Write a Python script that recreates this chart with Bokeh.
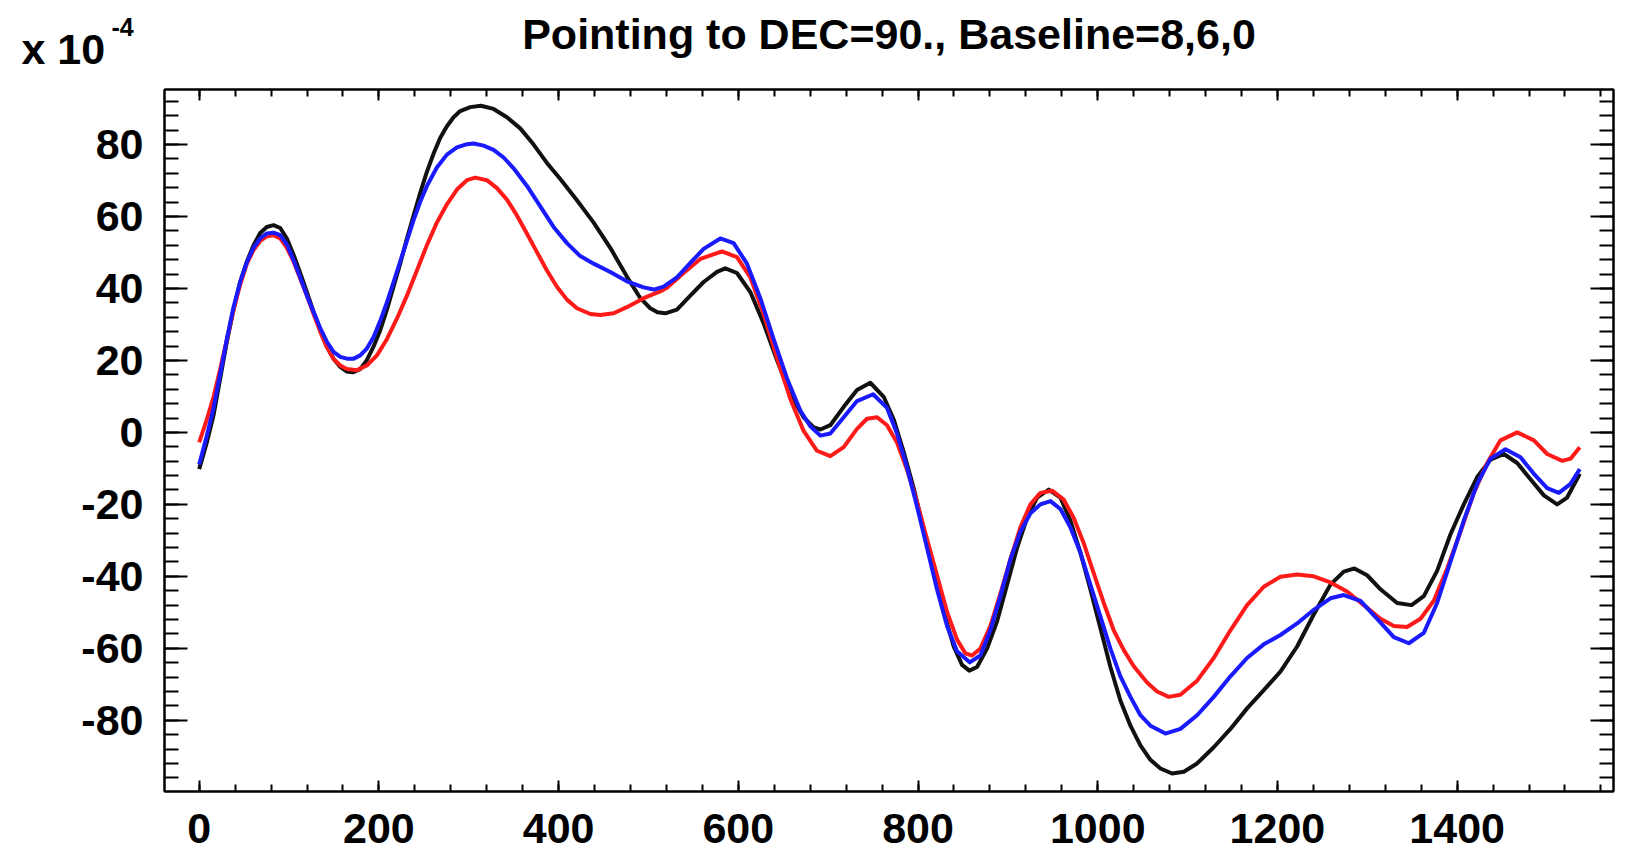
from bokeh.plotting import figure
from bokeh.models import Range1d, LinearAxis, SingleIntervalTicker, CustomLabelingPolicy
from bokeh.core.properties import value
from bokeh.embed import file_html
from bokeh.resources import INLINE

# ---------------- data (units of 1e-4) ----------------
black_x = [0, 8.5, 16, 23.4, 30.8, 38.2, 45.6, 53.1, 60.5, 67.9, 75.3, 82.7, 90.2, 97.6, 105, 112.4, 119.9, 127.3,
           134.7, 142.1, 149.5, 157, 164.4, 171, 179.2, 186.6, 194.1, 201.5, 208.9, 216.3, 223.7, 231.2, 238.6, 246,
           253.4, 260.9, 268.3, 275.7, 283.1, 290.5, 301.7, 313.5, 327.6, 342.5, 357.3, 372.2, 387, 401.9, 420.4, 439,
           457.5, 476, 491, 502, 510, 518.7, 531.7, 546.6, 561.4, 576.3, 585.5, 598.5, 613.4, 628.2, 643, 657.9,
           672.7, 683.9, 691.3, 702.4, 717.3, 732.1, 746.9, 761.8, 772.9, 784, 795.2, 806.3, 817.4, 828.6, 839.7, 849,
           857.1, 865.7, 876.8, 888, 899.1, 910.2, 921.3, 932.5, 945.5, 958.4, 969.6, 980.7, 991.8, 1003, 1014.1,
           1025.2, 1036.4, 1047.5, 1058.6, 1069.8, 1082.7, 1095.8, 1110.6, 1129.1, 1147.7, 1166.2, 1184.8, 1203.3,
           1221.9, 1240.4, 1259, 1273.8, 1285.7, 1299.8, 1314.7, 1333.2, 1349.2, 1362.9, 1377.7, 1392.6, 1407.4,
           1422.3, 1437.1, 1452, 1466.8, 1481.6, 1496.5, 1511.3, 1522.4, 1536.5]
black_y = [-10.2, -2.8, 4.8, 15.0, 25.2, 34.1, 41.8, 47.5, 52.0, 55.4, 57.1, 57.6, 56.8, 53.9, 49.4, 44.3, 39.0, 33.5,
           28.4, 23.9, 20.5, 18.2, 16.9, 16.7, 17.6, 20.1, 23.9, 28.4, 34.1, 40.5, 46.9, 53.9, 60.3, 66.6,
           72.4, 77.5, 81.9, 85.1, 87.6, 89.3, 90.4, 90.8, 89.9, 87.6, 84.5, 80.0, 74.9, 70.4, 64.5, 58.3,
           51.3, 43.3, 37.3, 34.5, 33.4, 33.1, 34.1, 38.0, 41.8, 44.6, 45.6, 44.3, 39.0, 30.3, 20.1, 10.6,
           4.2, 1.4, 0.8, 2.0, 7.1, 11.8, 13.8, 9.9, 3.6, -5.4, -15.5, -27.0, -38.5, -49.9, -59.5, -64.6,
           -66.2, -65.2, -60.1, -52.5, -42.3, -32.1, -23.8, -18.1, -15.9, -18.1, -24.5, -33.4, -43.6, -54.4, -65.2,
           -74.5, -81.5, -87.0, -91.0, -93.4, -94.8, -94.3, -92.0, -87.5, -82.4, -76.7, -71.6, -66.5,
           -59.5, -50.6, -42.3, -38.7, -37.8, -39.7, -43.6, -47.4, -48.0, -45.5, -38.5, -28.3, -20.0,
           -12.4, -7.6, -6.0, -8.5, -13.0, -17.5, -20.0, -18.1, -11.5]

red_x = [0, 8.5, 16, 23.4, 30.8, 38.2, 45.6, 53.1, 60.5, 67.9, 75.3, 82.7, 90.2, 97.6, 105, 112.4, 119.9, 127.3,
         134.7, 142.1, 149.5, 157, 164.4, 175.5, 186.6, 197.8, 208.9, 220, 231.2, 242.3, 253.4, 264.5, 275.7, 286.8,
         298, 307.2, 320.2, 331.4, 342.5, 353.6, 364.8, 375.9, 387, 398.1, 409.3, 420.4, 435.3, 446.4, 461.2, 476,
         494.6, 513, 520.6, 539.1, 557.7, 581.8, 598.5, 613.4, 628.2, 643, 657.9, 672.7, 687.6, 702.4, 717.3, 732.1,
         743.2, 754.4, 765.5, 776.6, 787.8, 798.9, 810, 821.1, 832.3, 843.4, 852.7, 860.1, 869.4, 880.5, 891.7,
         902.8, 913.9, 925.1, 936.2, 949.2, 962.2, 973.3, 984.4, 995.5, 1006.7, 1017.8, 1029, 1040.1, 1054.9, 1066,
         1079, 1092, 1110.6, 1129.1, 1147.7, 1166.2, 1184.8, 1203.3, 1222, 1240.4, 1259, 1277.5, 1296.1, 1314.7,
         1329.5, 1344.3, 1359.2, 1374, 1388.9, 1403.7, 1418.6, 1433.4, 1448.2, 1466.8, 1485.4, 1500.2, 1517, 1526.2,
         1536.5]
red_y = [-2.8, 3.6, 9.9, 17.6, 25.9, 34.1, 41.1, 46.9, 50.7, 53.2, 54.5, 54.8, 53.9, 51.3, 47.5, 42.8, 38.0, 32.9,
         28.0, 23.7, 20.4, 18.6, 17.6, 17.3, 18.6, 21.4, 25.9, 31.6, 38.0, 45.0, 52.0, 58.3, 63.4, 67.5,
         70.1, 70.8, 70.1, 67.9, 64.7, 60.3, 55.2, 50.1, 45.0, 40.5, 36.9, 34.5, 32.9, 32.6, 33.1, 34.8,
         37.3, 39.2, 40.2, 44.3, 48.2, 50.3, 48.7, 43.1, 32.9, 20.8, 9.3, 0.4, -5.1, -6.6, -4.1, 1.0,
         3.8, 4.2, 2.0, -2.8, -10.4, -19.4, -29.6, -39.7, -49.9, -57.6, -61.4, -62.0, -60.1, -53.8, -44.8,
         -35.3, -26.4, -20.0, -16.8, -16.2, -18.7, -23.8, -30.8, -39.1, -47.4, -55.0, -60.5, -65.0, -69.5, -72.0,
         -73.5, -72.9, -69.0, -62.7, -55.0, -48.0, -42.9, -40.1, -39.5, -40.0, -41.7, -44.2, -48.0, -51.8,
         -53.8, -54.1, -51.8, -46.8, -37.8, -27.6, -16.8, -8.5, -2.2, 0.0, -2.2, -6.0, -7.9, -7.3,
         -4.1]

blue_x = [0, 8.5, 16, 23.4, 30.8, 38.2, 45.6, 53.1, 60.5, 67.9, 75.3, 82.7, 90.2, 97.6, 105, 112.4, 119.9, 127.3,
          134.7, 142.1, 149.5, 157, 164.4, 172, 179.2, 186.6, 194.1, 201.5, 208.9, 216.3, 223.7, 231.2, 238.6, 246,
          253.4, 264.5, 275.7, 286.8, 298, 305.4, 316.5, 327.6, 338.8, 349.9, 364.8, 379.6, 394.4, 409.3, 424.1, 439,
          457.5, 476, 494.6, 506, 516.9, 531.7, 546.6, 561.4, 580, 594.8, 609.6, 624.5, 639.3, 654.2, 669, 680.1,
          691.3, 702.4, 717.3, 732.1, 750, 765.5, 776.6, 787.8, 798.9, 810, 821.1, 832.3, 843.4, 857.5, 869.4,
          880.5, 891.7, 902.8, 913.9, 925.1, 936.2, 947.4, 958.5, 969.6, 980.7, 991.8, 1003, 1014.1, 1025.2, 1036.4,
          1047.5, 1058.6, 1075.3, 1092, 1110.6, 1129.1, 1147.7, 1166.2, 1184.8, 1203.3, 1221.9, 1240.4, 1259, 1273.8,
          1292.4, 1311, 1329.5, 1346.2, 1362.9, 1377.7, 1392.6, 1407.4, 1422.3, 1437.1, 1453.8, 1470.5, 1485.4,
          1500.2, 1513.2, 1526.2, 1536.5]
blue_y = [-8.9, -0.9, 6.8, 16.3, 25.9, 34.8, 41.8, 47.3, 51.3, 53.9, 55.3, 55.5, 54.8, 52.2, 47.9, 43.1, 38.0, 33.5,
          29.0, 25.2, 22.4, 21.0, 20.5, 20.5, 21.4, 23.3, 26.5, 31.0, 36.1, 41.8, 47.5, 53.2, 59.0, 64.1,
          68.5, 73.6, 77.2, 79.2, 80.1, 80.3, 79.7, 78.5, 76.4, 73.4, 68.5, 62.8, 57.1, 52.6, 49.0, 46.9,
          44.6, 42.0, 40.3, 39.7, 40.5, 43.1, 47.1, 51.0, 53.9, 52.6, 46.9, 37.3, 25.9, 15.0, 6.1, 1.7,
          -0.9, -0.3, 4.2, 8.7, 10.6, 6.8, -0.3, -9.8, -20.6, -32.1, -43.6, -53.8, -60.8, -63.9, -62.0,
          -55.0, -45.5, -35.3, -27.6, -22.5, -20.0, -19.1, -21.3, -26.4, -33.4, -42.3, -51.2, -60.1, -67.8, -73.5,
          -78.6, -81.5, -83.7, -82.4, -78.6, -73.5, -67.8, -62.7, -58.9, -56.3, -53.1, -49.3, -46.1, -45.2,
          -46.8, -51.8, -56.9, -58.6, -55.7, -47.4, -35.9, -24.5, -14.3, -7.3, -4.7, -6.9, -11.5,
          -15.5, -16.8, -14.3, -10.2]

x_ticks = [0, 200, 400, 600, 800, 1000, 1200, 1400]
x_tick_labels = ["0", "200", "400", "600", "800", "1000", "1200", "1400"]
y_ticks = [-80, -60, -40, -20, 0, 20, 40, 60, 80]
y_tick_labels = ["-80", "-60", "-40", "-20", "0", "20", "40", "60", "80"]

title_text = "Pointing to DEC=90., Baseline=8,6,0"
scale_text = "x 10"
scale_exp = "-4"

# ---------------- layout ----------------
X0, X1 = -38.6, 1574.0
Y0, Y1 = -99.8, 95.3
W = 1624
HH = 80                       # header strip holding the title
H = 782                       # main figure
FL, FR = 164, 1613            # frame left/right on the page
ML, MR, MT, MB = FL, W - FR, 9, 71
FONT = "Liberation Sans"
SHIFT = 16                    # measured vertical offset of the header's drawing area

# ---- header with the title and the scale factor ----
hdr = figure(width=W, height=HH, output_backend="svg", toolbar_location=None,
             x_range=Range1d(0, W), y_range=Range1d(HH, 0), min_border=0,
             x_axis_location=None, y_axis_location=None)
try:
    hdr.title = None
except Exception:
    pass
hdr.grid.visible = False
hdr.outline_line_color = None
hdr.text(x=[(FL + FR) / 2], y=[49 - SHIFT], text=[title_text], text_align="center", text_baseline="alphabetic",
         text_font=value(FONT), text_font_style="bold", text_font_size="43px", text_color="black")
hdr.text(x=[21], y=[64 - SHIFT], text=[scale_text], text_align="left", text_baseline="alphabetic",
         text_font=value(FONT), text_font_style="bold", text_font_size="43px", text_color="black")
hdr.text(x=[111], y=[42 - SHIFT], text=[scale_exp], text_align="left", text_baseline="alphabetic",
         text_font=value(FONT), text_font_style="bold", text_font_size="25px", text_color="black")

# ---- main plot ----
p = figure(width=W, height=H, output_backend="svg", toolbar_location=None,
           x_range=Range1d(X0, X1), y_range=Range1d(Y0, Y1),
           min_border_left=ML, min_border_right=MR, min_border_top=MT, min_border_bottom=MB,
           x_axis_location=None, y_axis_location=None)
p.grid.visible = False
p.outline_line_color = "black"
p.outline_line_width = 2


def make_axis(interval, major_in, minor_in, ticks=None, labels=None, standoff=0):
    ax = LinearAxis(ticker=SingleIntervalTicker(interval=interval, num_minor_ticks=5))
    ax.axis_line_color = "black"
    ax.axis_line_width = 2
    ax.major_tick_line_color = "black"
    ax.major_tick_line_width = 2
    ax.minor_tick_line_color = "black"
    ax.minor_tick_line_width = 2
    ax.major_tick_in = major_in
    ax.major_tick_out = 0
    ax.minor_tick_in = minor_in
    ax.minor_tick_out = 0
    if labels is not None:
        ax.major_label_overrides = {t: s for t, s in zip(ticks, labels)}
        ax.major_label_text_font = FONT
        ax.major_label_text_font_style = "bold"
        ax.major_label_text_font_size = "43px"
        ax.major_label_text_color = "black"
        ax.major_label_standoff = standoff
    else:
        # mirrored axis: ticks only, no labels drawn at all
        ax.major_label_policy = CustomLabelingPolicy(code="return []")
        ax.major_label_text_font_size = "1px"
        ax.major_label_standoff = 0
    return ax


p.add_layout(make_axis(200, 11, 7, x_ticks, x_tick_labels, 22), "below")
p.add_layout(make_axis(200, 11, 7), "above")
p.add_layout(make_axis(20, 23, 14, y_ticks, y_tick_labels, 21), "left")
p.add_layout(make_axis(20, 23, 14), "right")

p.line(black_x, black_y, line_color="#111111", line_width=4, line_join="round")
p.line(red_x, red_y, line_color="#ff1a1a", line_width=4, line_join="round")
p.line(blue_x, blue_y, line_color="#1a1aff", line_width=4, line_join="round")

open("out.html", "w").write(file_html([hdr, p], INLINE))
